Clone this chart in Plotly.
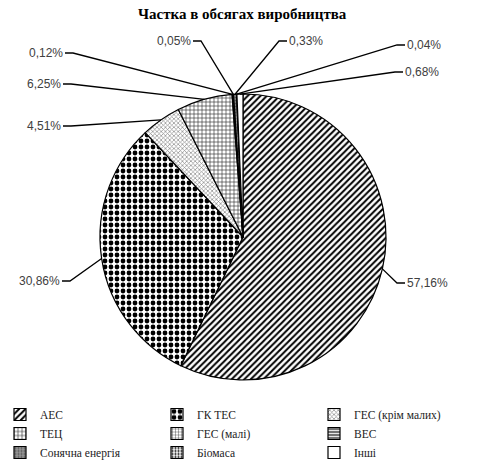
import math
import plotly.graph_objects as go

# ---- data ----
title = "Частка в обсягах виробництва"
categories = ["АЕС", "ГК ТЕС", "ГЕС (крім малих)", "ТЕЦ", "ГЕС (малі)", "ВЕС",
              "Сонячна енергія", "Біомаса", "Інші"]
shares = [57.16, 30.86, 4.51, 6.25, 0.12, 0.05, 0.33, 0.04, 0.68]

# ---- styling / layout (not data) ----
W, H = 480, 468
CX, CY, R = 243, 237, 143          # pie centre / radius in px
SERIF = "Liberation Serif, Times New Roman, DejaVu Serif, serif"
patterns = [
    dict(shape="/", fgcolor="black", bgcolor="white", size=4.5, solidity=0.45),
    dict(shape=".", fgcolor="black", bgcolor="white", size=6, solidity=0.5),
    dict(shape="x", fgcolor="#888888", bgcolor="white", size=3, solidity=0.4),
    dict(shape="+", fgcolor="#333333", bgcolor="white", size=4, solidity=0.3),
    dict(shape="+", fgcolor="black", bgcolor="white", size=3, solidity=0.2),
    dict(shape="-", fgcolor="black", bgcolor="white", size=3, solidity=0.4),
    dict(shape=".", fgcolor="#555555", bgcolor="#999999", size=3, solidity=0.4),
    dict(shape=".", fgcolor="black", bgcolor="white", size=3, solidity=0.4),
    dict(shape="", fgcolor="black", bgcolor="white", size=3, solidity=0.1),
]
# label anchor (px from left, px from top, side where text sits)
label_pos = [(405, 283, "R"), (62, 281, "L"), (63, 126, "L"), (63, 84, "L"),
             (65, 53, "L"), (193, 41, "L"), (287, 41, "R"), (405, 45, "R"),
             (403, 72, "R")]
STUB = 8

fig = go.Figure(go.Pie(
    labels=categories, values=shares, sort=False, direction="clockwise",
    rotation=0, textinfo="none",
    marker=dict(pattern=dict(
        shape=[p["shape"] for p in patterns],
        fgcolor=[p["fgcolor"] for p in patterns],
        bgcolor=[p["bgcolor"] for p in patterns],
        size=[p["size"] for p in patterns],
        solidity=[p["solidity"] for p in patterns]),
        colors=[p["bgcolor"] for p in patterns],
        line=dict(color="black", width=1.2)),
    domain=dict(x=[(CX - R) / W, (CX + R) / W], y=[1 - (CY + R) / H, 1 - (CY - R) / H]),
))

px = lambda x: x / W
py = lambda y: 1 - y / H

shapes, annotations = [], []
total = sum(shares)
cum = 0.0
for v, (tx, ty, side) in zip(shares, label_pos):
    mid = (cum + v / 2) / total * 2 * math.pi
    cum += v
    ex = CX + R * math.sin(mid)
    ey = CY - R * math.cos(mid)
    if side == "L":
        elbow = tx + STUB
        anchor = "right"
    else:
        elbow = tx - STUB
        anchor = "left"
    path = f"M {px(ex)},{py(ey)} L {px(elbow)},{py(ty)} L {px(tx)},{py(ty)}"
    shapes.append(dict(type="path", path=path, xref="paper", yref="paper",
                       line=dict(color="black", width=1.3)))
    txt = f"{v:.2f}".replace(".", ",") + "%"
    annotations.append(dict(x=px(tx), y=py(ty), xref="paper", yref="paper",
                            text=txt, showarrow=False, xanchor=anchor, yanchor="middle",
                            font=dict(family="Liberation Sans", size=12, color="#404040")))

annotations.append(dict(x=px(242), y=py(14), xref="paper", yref="paper", text=f"<b>{title}</b>",
                        showarrow=False, xanchor="center", yanchor="middle",
                        font=dict(family=SERIF, size=15, color="black")))

fig.update_layout(
    width=W, height=H, margin=dict(l=0, r=0, t=0, b=0),
    paper_bgcolor="white", plot_bgcolor="white",
    shapes=shapes, annotations=annotations,
    legend=dict(orientation="h", x=0, y=py(400), xanchor="left", yanchor="top",
                entrywidth=112, tracegroupgap=0, itemwidth=30,
                font=dict(family=SERIF, size=11.5, color="#222222")),
)
fig.write_html("out.html", config={"displayModeBar": False},
               post_script="document.body.style.margin='0';")
